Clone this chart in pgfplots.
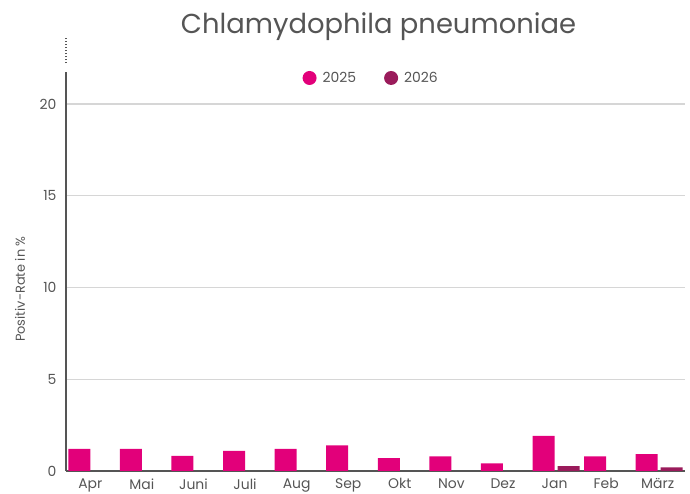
\documentclass[border=0pt]{standalone}
\usepackage{pgfplots}
\pgfplotsset{compat=1.18}
\usepackage{fontspec}
\setmainfont{Poppins}
\definecolor{c25}{HTML}{E2007A}
\definecolor{c26}{HTML}{9A1B5B}
\definecolor{txt}{HTML}{555555}
\definecolor{gridc}{HTML}{D6D6D6}
\definecolor{axc}{HTML}{555555}

\begin{document}
\begin{tikzpicture}[x=1bp,y=1bp]
\useasboundingbox (0,0) rectangle (690,494);
\node[font=\fontsize{27.5}{32}\selectfont, text=txt] at (378.5,467) {Chlamydophila pneumoniae};
\begin{axis}[
  at={(66bp,23bp)}, anchor=south west,
  scale only axis, width=619bp, height=399bp,
  xmin=-0.5, xmax=11.5, ymin=0, ymax=21.74,
  ybar, bar width=22bp,
  xtick={0,...,11},
  xticklabels={Apr,Mai,Juni,Juli,Aug,Sep,Okt,Nov,Dez,Jan,Feb,März},
  ytick={0,5,10,15,20},
  ymajorgrids, grid style={gridc, line width=1.4bp},
  axis x line*=bottom, axis y line*=left,
  axis line style={axc, line width=2bp, -},
  major tick length=0pt,
  tick label style={font=\fontsize{14}{16}\selectfont, text=txt},
  yticklabel style={xshift=-6bp},
  xticklabel style={yshift=-4bp, xshift=-1.5bp},
  /pgf/number format/assume math mode=true,
  ylabel={Positiv-Rate in \%},
  ylabel style={at={(axis description cs:-0.0743,0.456)}, anchor=center,
    font=\fontsize{13}{15}\selectfont, text=txt},
  legend style={at={(axis description cs:0.493,0.985)}, anchor=center,
    draw=none, fill=none, legend columns=2,
    /tikz/every odd column/.append style={column sep=4bp},
    /tikz/every even column/.append style={column sep=26bp},
    font=\fontsize{14}{16}\selectfont, text=txt},
  clip=false,
]
\addplot[fill=c25, draw=none, bar shift=-12.5bp,
  legend image code/.code={\fill[c25] (0bp,0bp) circle (7bp);}]
  coordinates {(0,1.2) (1,1.2) (2,0.82) (3,1.1) (4,1.2) (5,1.4)
               (6,0.7) (7,0.8) (8,0.42) (9,1.92) (10,0.8) (11,0.92)};
\addlegendentry{2025}
\addplot[fill=c26, draw=none, bar shift=12.5bp,
  legend image code/.code={\fill[c26] (0bp,0bp) circle (7bp);}]
  coordinates {(9,0.27) (11,0.2)};
\addlegendentry{2026}
\draw[axc, line width=1.5bp, dash pattern=on 1bp off 2bp]
  (rel axis cs:0,1.022) -- (rel axis cs:0,1.085);
\end{axis}
\end{tikzpicture}
\end{document}
